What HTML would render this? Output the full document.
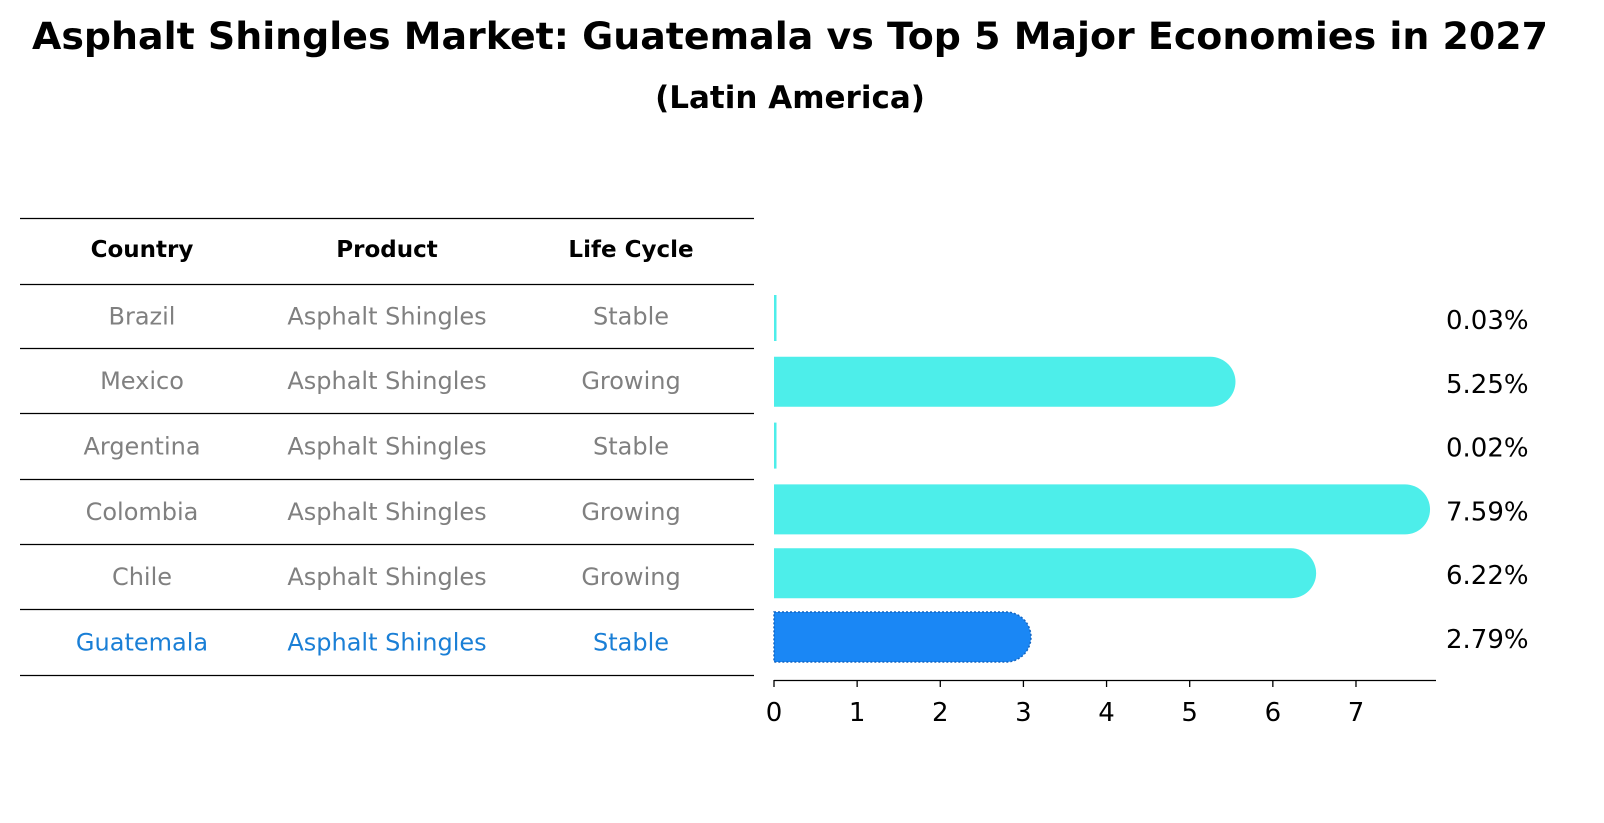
<!DOCTYPE html>
<html><head><meta charset="utf-8">
<style>
body{margin:0;background:#fff;font-family:"Liberation Sans","DejaVu Sans",sans-serif;}
#root{position:relative;width:1604px;height:823px;overflow:hidden;}
</style></head>
<body><div id="root">
<svg id="svg" width="1604" height="823" xmlns="http://www.w3.org/2000/svg">
<text x="790" y="49" text-anchor="middle" font-size="37.5" font-weight="bold" font-family="DejaVu Sans, sans-serif" textLength="1516" lengthAdjust="spacingAndGlyphs">Asphalt Shingles Market: Guatemala vs Top 5 Major Economies in 2027</text>
<text x="790" y="108" text-anchor="middle" font-size="31" font-weight="bold" font-family="DejaVu Sans, sans-serif">(Latin America)</text>
<g id="table"></g>
<g id="bars"></g>
</svg>
<script>
const countries=["Brazil","Mexico","Argentina","Colombia","Chile","Guatemala"];
const products=["Asphalt Shingles","Asphalt Shingles","Asphalt Shingles","Asphalt Shingles","Asphalt Shingles","Asphalt Shingles"];
const lifeCycles=["Stable","Growing","Stable","Growing","Growing","Stable"];
const values=[0.03,5.25,0.02,7.59,6.22,2.79];
const valueLabels=["0.03%","5.25%","0.02%","7.59%","6.22%","2.79%"];
const ticks=[0,1,2,3,4,5,6,7];
const highlight="Guatemala";

const NS="http://www.w3.org/2000/svg";
function mk(tag,attrs,parent){const e=document.createElementNS(NS,tag);for(const k in attrs)e.setAttribute(k,attrs[k]);parent.appendChild(e);return e;}
const x=v=>774+v*83.14;
const rowY=i=>318+i*63.8;
const table=document.getElementById('table');
const bars=document.getElementById('bars');
const F="DejaVu Sans, sans-serif";
const lineYs=[218.5,284.5,348.5,413.5,479.5,544.5,609.5,675.5];
lineYs.forEach((ly,i)=>{const l=mk('line',{x1:20,x2:754,y1:ly,y2:ly,stroke:'#000','stroke-width':1.2},table);

});
const cols=[142,387,631];
["Country","Product","Life Cycle"].forEach((h,i)=>{const t=mk('text',{x:cols[i],y:257,'text-anchor':'middle','font-size':23,'font-weight':'bold','font-family':F},table);t.textContent=h;

});
countries.forEach((c,i)=>{
 const col=c===highlight?'#1a7fd6':'#808080';
 const ty=(lineYs[i+1]+lineYs[i+2])/2+8;
 [c,products[i],lifeCycles[i]].forEach((s,j)=>{const t=mk('text',{x:cols[j],y:ty,'text-anchor':'middle','font-size':24,fill:col,'font-family':F},table);t.textContent=s;
 
 });
});
values.forEach((v,i)=>{
 const h=50,r=25,cy=rowY(i);
 const isH=countries[i]===highlight;
 const col=isH?'#1a87f5':'#4deeea';
 const w=x(v)-x(0);
 let el;
 if(w<6){el=mk('rect',{x:x(0),y:cy-h/2+2,width:Math.max(w,2.5),height:h-4,fill:col},bars);}
 else{
  const x0=x(0),x1=x(v);
  el=mk('path',{d:`M${x0},${cy-h/2} L${x1},${cy-h/2} A${r},${r} 0 0 1 ${x1},${cy+h/2} L${x0},${cy+h/2} Z`,fill:col},bars);
  if(isH){el.setAttribute('stroke','#1565c0');el.setAttribute('stroke-dasharray','2,2');el.setAttribute('stroke-width','1.5');}
 }
 
 
 const t=mk('text',{x:1446,y:cy+11,'font-size':26,'font-family':F},bars);t.textContent=valueLabels[i];
 
 
});
const ax=mk('line',{x1:774,x2:1436,y1:680.5,y2:680.5,stroke:'#000','stroke-width':1.3},bars);


ticks.forEach(tv=>{
 const tk=mk('line',{x1:x(tv),x2:x(tv),y1:680,y2:687,stroke:'#000','stroke-width':1.3},bars);
 
 
 const t=mk('text',{x:x(tv),y:721,'text-anchor':'middle','font-size':26,'font-family':F},bars);t.textContent=tv;
 
 
});
</script>
</div></body></html>
